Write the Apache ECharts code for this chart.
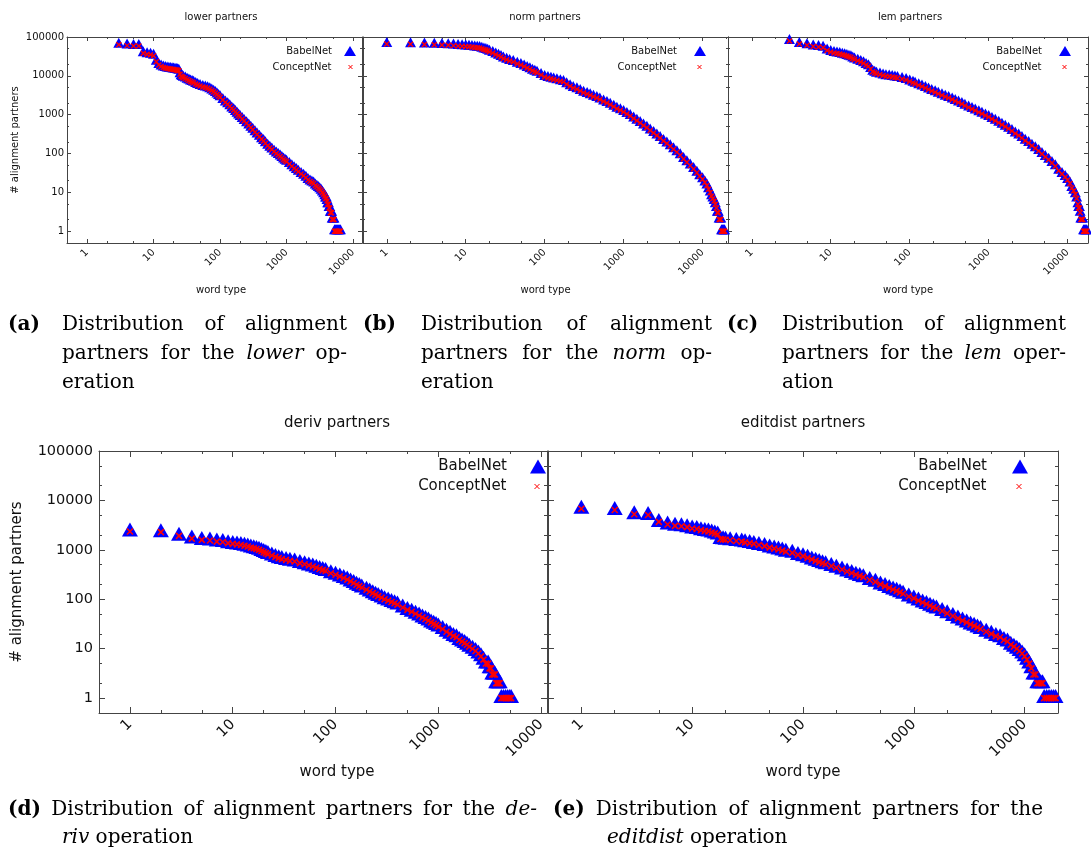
<!DOCTYPE html>
<html>
<head>
<meta charset="utf-8">
<script src="https://cdn.jsdelivr.net/npm/echarts@6/dist/echarts.min.js"></script>
<style>
html,body{margin:0;padding:0;background:#fff;}
#c{width:1091px;height:852px;}
</style>
</head>
<body>
<div id="c"></div>
<script>
// ---------------- data ----------------
const xTickValues = [1, 10, 100, 1000, 10000];
const xTickLabels = ['1', '10', '100', '1000', '10000'];
const yTickValues = [1, 10, 100, 1000, 10000, 100000];
const yTickLabels = ['1', '10', '100', '1000', '10000', '100000'];
const minorMultipliers = [2, 5];
const seriesNames = ['BabelNet', 'ConceptNet'];
const chartTitles = ['lower partners', 'norm partners', 'lem partners', 'deriv partners', 'editdist partners'];
const axisMinimum = 0.5;
const axisYMaximum = 100000;
const xAxisMaximums = [13600, 21000, 18100, 11400, 20000];

const lowerRanks = [3,4,5,6,7,8,9,10,11,12,13,14,15,16,17,18,19,20,21,22,23,24,25,26,27,28,30,32,34,36,38,40,43,46,50,55,60,65,70,75,80,85,90,95,100,110,120,130,140,150,160,170,180,190,200,215,230,250,270,290,310,335,360,390,420,450,480,520,560,600,650,700,750,800,850,900,950,1000,1100,1200,1300,1400,1500,1650,1800,1950,2100,2250,2400,2550,2700,2850,3000,3150,3300,3450,3600,3750,3850,3950,4050,4150,4250,4350,4450,4550,4650,4750,4850,4950,5050,5150,5250,5450,5650,5850,6050,6250,6450];
const lowerBabel = [63000,60000,59000,59000,38000,36000,35000,33000,23000,19000,17500,16500,16000,15500,15300,15000,14800,14600,14400,14200,13900,13500,11000,9800,9400,9000,8500,8000,7600,7200,6900,6600,6200,5800,5500,5200,5000,4800,4500,4200,3900,3600,3300,3050,2800,2400,2050,1850,1650,1450,1320,1180,1060,960,880,780,690,600,530,460,410,355,310,270,235,210,185,160,142,128,112,100,92,84,77,70,65,62,54,47,42,38,34,30,27,24,21,19,18,17,15,14,13,12,11,10,9,8,7,7,6,5,5,4,4,3,3,3,2,2,2,2,1,1,1,1,1,1,1];
const lowerConcept = [63000,60000,59000,59000,38000,36000,35000,33000,23000,19000,17500,16500,16000,15500,15300,15000,14800,14600,14400,14200,13900,13500,11000,9800,9400,9000,8500,8000,7600,7200,6900,6600,6200,5800,5500,5200,5000,4800,4500,4200,3900,3600,3300,3050,2800,2400,2050,1850,1650,1450,1320,1180,1060,960,880,780,690,600,530,460,410,355,310,270,235,210,185,160,142,128,112,100,92,84,77,70,65,62,54,47,42,38,34,30,27,24,21,19,18,17,15,14,13,12,11,10,9,8,7,7,6,5,5,4,4,3,3,3,2,2,2,2,1,1,1,1,1,1,1];

const normRanks = [1,2,3,4,5,6,7,8,9,10,11,12,13,14,15,16,17,18,19,20,22,24,26,28,30,33,36,40,45,50,55,60,65,70,75,80,90,100,110,120,130,143,158,173,190,210,230,256,282,311,345,377,415,458,500,557,615,676,750,822,910,1000,1100,1212,1340,1472,1620,1787,1970,2171,2400,2637,2900,3204,3530,3893,4290,4729,5210,5744,6330,6978,7700,8477,9200,10000,10700,11350,11900,12500,13000,13500,14000,14500,15000,15400,15800,16200,16600,17000,17400,17800,18200,18600,19000];
const normBabel = [66000,65000,64500,63000,62000,61000,60000,58500,58000,57000,56000,55000,54000,53000,52000,50000,48000,46000,44000,42000,39000,35500,33000,30500,28000,26000,24000,22600,20500,19000,17500,16000,14700,13500,12700,12000,10500,9300,8800,8400,8100,7700,7300,7000,6100,5400,4900,4500,4050,3700,3400,3150,2900,2700,2450,2200,2000,1800,1600,1420,1300,1170,1040,925,800,700,610,530,460,395,340,290,250,212,182,155,130,109,90,73,60,49,40,32,26,22,18,15,12,10,8,7,6,5,4,3,3,2,2,2,1,1,1,1,1];
const normConcept = [66000,65000,64500,63000,62000,61000,60000,58500,58000,57000,56000,55000,54000,53000,52000,50000,48000,46000,44000,42000,39000,35500,33000,30500,28000,26000,24000,22600,20500,19000,17500,16000,14700,13500,12700,12000,10500,9300,8800,8400,8100,7700,7300,7000,6100,5400,4900,4500,4050,3700,3400,3150,2900,2700,2450,2200,2000,1800,1600,1420,1300,1170,1040,925,800,700,610,530,460,395,340,290,250,212,182,155,130,109,90,73,60,49,40,32,26,22,18,15,12,10,8,7,6,5,4,3,3,2,2,2,1,1,1,1,1];

const lemRanks = [3,4,5,6,7,8,9,10,11,12,13,14,15,16,17,18,19,20,22,24,26,28,30,32,34,36,38,42,46,50,55,60,65,70,80,90,100,110,117,130,143,158,173,190,210,230,256,282,311,345,377,415,458,500,557,615,676,750,822,910,1000,1100,1212,1340,1472,1620,1787,1970,2171,2400,2637,2900,3204,3530,3893,4290,4729,5210,5744,6330,6978,7700,8477,9300,10000,10700,11300,11900,12500,13000,13500,13800,14100,14400,14700,15100,15500,15900,16300,16700,17100,17500];
const lemBabel = [79000,66000,61000,57000,55000,53000,45000,41000,39000,37500,36500,35000,33700,32500,31200,30000,28000,26500,24500,22600,21000,19000,17800,15000,12800,12000,11300,10800,10200,9800,9600,9300,9050,8800,8300,7800,7200,6600,6270,5700,5300,4850,4450,4100,3800,3450,3150,2900,2700,2450,2250,2050,1880,1700,1540,1400,1290,1160,1060,960,870,780,700,625,555,490,434,380,330,290,250,215,187,160,138,116,98,82,69,57,47,36,30,25,21,17,13,11,9,7,5,4,4,3,2,2,2,1,1,1,1,1];
const lemConcept = [79000,66000,61000,57000,55000,53000,45000,41000,39000,37500,36500,35000,33700,32500,31200,30000,28000,26500,24500,22600,21000,19000,17800,15000,12800,12000,11300,10800,10200,9800,9600,9300,9050,8800,8300,7800,7200,6600,6270,5700,5300,4850,4450,4100,3800,3450,3150,2900,2700,2450,2250,2050,1880,1700,1540,1400,1290,1160,1060,960,870,780,700,625,555,490,434,380,330,290,250,215,187,160,138,116,98,82,69,57,47,36,30,25,21,17,13,11,9,7,5,4,4,3,2,2,2,1,1,1,1,1];

const derivRanks = [1,2,3,4,5,6,7,8,9,10,11,12,13,14,15,16,17,18,19,20,21,22,24,26,28,30,33,36,40,45,50,55,60,65,70,75,80,90,100,110,120,130,140,150,160,170,180,200,215,230,245,260,280,300,325,350,375,400,450,500,550,600,650,700,750,800,850,900,950,1000,1100,1200,1300,1400,1500,1600,1700,1800,1900,2000,2150,2300,2450,2600,2750,2900,3050,3150,3250,3350,3450,3550,3650,3750,3850,3950,4100,4300,4500,4700,4900,5100];
const derivBabel = [2350,2280,1920,1690,1590,1545,1470,1440,1365,1320,1290,1250,1210,1170,1110,1080,1040,1000,950,900,860,820,770,720,680,650,625,600,580,540,510,485,460,435,410,390,375,337,313,290,270,250,230,213,197,185,173,156,144,133,124,116,108,100,94,88,83,78,68,61,56,51,47,43,40,37,34,32,30,28,25,22,20,18,17,15,14,13,12,11,10,9,8,7,6,5,5,4,4,3,3,3,2,2,2,2,1,1,1,1,1,1];
const derivConcept = [2350,2280,1920,1690,1590,1545,1470,1440,1365,1320,1290,1250,1210,1170,1110,1080,1040,1000,950,900,860,820,770,720,680,650,625,600,580,540,510,485,460,435,410,390,375,337,313,290,270,250,230,213,197,185,173,156,144,133,124,116,108,100,94,88,83,78,68,61,56,51,47,43,40,37,34,32,30,28,25,22,20,18,17,15,14,13,12,11,10,9,8,7,6,5,5,4,4,3,3,3,2,2,2,2,1,1,1,1,1,1];

const editRanks = [1,2,3,4,5,6,7,8,9,10,11,12,13,14,15,16,17,18,19,20,22,25,28,30,33,36,40,45,50,55,60,65,70,80,90,100,110,120,130,140,150,160,180,200,225,250,275,300,325,350,400,450,500,550,600,650,700,750,800,900,1000,1100,1200,1300,1400,1500,1600,1800,2000,2250,2500,2750,3000,3250,3500,3750,4000,4500,5000,5500,6000,6500,7000,7500,8000,8500,9000,9500,10000,10500,11000,11500,12000,12500,13000,13500,14000,14500,15000,15800,16600,17400,18200,19000];
const editBabel = [6800,6400,5250,5080,3680,3260,3060,3000,2880,2700,2640,2500,2400,2360,2250,2150,2050,1660,1630,1600,1560,1510,1470,1420,1370,1320,1250,1190,1110,1060,1015,965,920,870,790,745,690,640,600,565,535,510,470,435,400,365,340,315,297,280,245,225,200,185,170,158,148,138,129,114,104,94,86,80,74,69,65,58,52,46,41,37,34,31,29,27,25,22,20,18,17,15,14,12,11,10,9,8,7,6,5,4,3,3,2,2,2,2,1,1,1,1,1,1];
const editConcept = [6800,6400,5250,5080,3680,3260,3060,3000,2880,2700,2640,2500,2400,2360,2250,2150,2050,1660,1630,1600,1560,1510,1470,1420,1370,1320,1250,1190,1110,1060,1015,965,920,870,790,745,690,640,600,565,535,510,470,435,400,365,340,315,297,280,245,225,200,185,170,158,148,138,129,114,104,94,86,80,74,69,65,58,52,46,41,37,34,31,29,27,25,22,20,18,17,15,14,12,11,10,9,8,7,6,5,4,3,3,2,2,2,2,1,1,1,1,1,1];

// ---------------- layout & styles ----------------
const FONT = 'DejaVu Sans';
const SERIF = 'DejaVu Serif';
const INK = '#111';
const FRAME = '#444';
const BLUE = '#0000ff';
const RED = '#ff0000';
const X_PATH = 'path://M0,0L10,10M10,0L0,10';
const CAP_SIZE = 20;

const small = {font:10, tickFont:10, major:4, minor:2, tri:[11,10], x:5, xw:1.4, legTri:[12,10], legX:4, xMargin:8, yMargin:3, xNameGap:42, yNameGap:47};
const big   = {font:15, tickFont:14.5, major:6, minor:3, tri:[16,14], x:6, xw:1.6, legTri:[16,14], legX:5, xMargin:9, yMargin:6, xNameGap:52, yNameGap:74};

const panels = [
  {ranks:lowerRanks, babel:lowerBabel, concept:lowerConcept, box:{left:67, top:37, width:295, height:206}, S:small, yText:true, title:[221,17], nameShift:13,
   leg:{bRight:735, bTop:46, bPad:7, cRight:738, cTop:62, cPad:12}},
  {ranks:normRanks, babel:normBabel, concept:normConcept, box:{left:363, top:37, width:365, height:206}, S:small, yText:false, title:[545,17], nameShift:0,
   leg:{bRight:385, bTop:46, bPad:12, cRight:389, cTop:62, cPad:16}},
  {ranks:lemRanks, babel:lemBabel, concept:lemConcept, box:{left:728, top:37, width:360, height:206}, S:small, yText:false, title:[910,17], nameShift:0,
   leg:{bRight:20, bTop:46, bPad:12, cRight:24, cTop:62, cPad:16}},
  {ranks:derivRanks, babel:derivBabel, concept:derivConcept, box:{left:99, top:451, width:448, height:262}, S:big, yText:true, title:[337,423], nameShift:28,
   leg:{bRight:545, bTop:459, bPad:18, cRight:551, cTop:479, cPad:23}},
  {ranks:editRanks, babel:editBabel, concept:editConcept, box:{left:548, top:451, width:510, height:262}, S:big, yText:false, title:[803,423], nameShift:0,
   leg:{bRight:63, bTop:459, bPad:20, cRight:69, cTop:479, cPad:25}}
];

const captionLines = [
  {x:8,   y:325, parts:[['b','(a)']]},
  {x:62,  x1:347, y:325, parts:[['n','Distribution of alignment']]},
  {x:62,  x1:347, y:354, parts:[['n','partners for the'],['i','lower'],['n','op-']]},
  {x:62,  y:383, parts:[['n','eration']]},
  {x:363, y:325, parts:[['b','(b)']]},
  {x:421, x1:712, y:325, parts:[['n','Distribution of alignment']]},
  {x:421, x1:712, y:354, parts:[['n','partners for the'],['i','norm'],['n','op-']]},
  {x:421, y:383, parts:[['n','eration']]},
  {x:727, y:325, parts:[['b','(c)']]},
  {x:782, x1:1066, y:325, parts:[['n','Distribution of alignment']]},
  {x:782, x1:1066, y:354, parts:[['n','partners for the'],['i','lem'],['n','oper-']]},
  {x:782, y:383, parts:[['n','ation']]},
  {x:8,   x1:537, y:810, parts:[['b','(d)'],['n','Distribution of alignment partners for the'],['i','de-']]},
  {x:62,  y:838, parts:[['i','riv'],['n','operation']]},
  {x:553, x1:1043, y:810, parts:[['b','(e)'],['n','Distribution of alignment partners for the']]},
  {x:607, y:838, parts:[['i','editdist'],['n','operation']]}
];

// ---------------- build ----------------
const L = Math.log10;
const xMajor = xTickValues.map(L);
const yMajor = yTickValues.map(L);
const minorVals = [];
for (let e = -1; e <= 5; e++) minorMultipliers.forEach(m => minorVals.push(L(m * Math.pow(10, e))));

function labelFor(vals, labels, v) {
  let best = 0;
  vals.forEach((t, k) => { if (Math.abs(t - v) < Math.abs(vals[best] - v)) best = k; });
  return labels[best];
}

const grids = [], xAxes = [], yAxes = [], series = [], legends = [], graphics = [];

panels.forEach((P, i) => {
  const S = P.S;
  grids.push(Object.assign({show:false, containLabel:false, outerBoundsMode:'none'}, P.box));
  const xr = {min:L(axisMinimum), max:L(xAxisMaximums[i])};
  const yr = {min:L(axisMinimum), max:L(axisYMaximum)};
  const frame = {show:true, onZero:false, lineStyle:{color:FRAME, width:1}};
  const hidden = {show:false, onZero:false};
  const ticks = (vals, len) => ({show:true, inside:true, length:len, customValues:vals, lineStyle:{color:FRAME, width:1}});
  const common = {gridIndex:i, type:'value', silent:true, splitLine:{show:false}, splitArea:{show:false}};
  const nameStyle = {fontFamily:FONT, fontSize:S.font, color:INK};

  xAxes.push(Object.assign({}, common, xr, {
    position:'bottom', axisLine:frame, axisTick:ticks(xMajor, S.major),
    axisLabel:{show:true, customValues:xMajor, rotate:45, margin:S.xMargin, fontFamily:FONT, fontSize:S.tickFont, color:INK,
      formatter:v => labelFor(xMajor, xTickLabels, v)},
    name:'word type', nameLocation:'middle', nameGap:S.xNameGap, nameMoveOverlap:false,
    nameTextStyle:Object.assign({padding:[0,0,0,P.nameShift]}, nameStyle)
  }));
  xAxes.push(Object.assign({}, common, xr, {position:'bottom', axisLine:hidden, axisTick:ticks(minorVals, S.minor), axisLabel:{show:false}}));
  xAxes.push(Object.assign({}, common, xr, {position:'top', axisLine:frame, axisTick:ticks(xMajor, S.major), axisLabel:{show:false}}));
  xAxes.push(Object.assign({}, common, xr, {position:'top', axisLine:hidden, axisTick:ticks(minorVals, S.minor), axisLabel:{show:false}}));

  yAxes.push(Object.assign({}, common, yr, {
    position:'left', axisLine:frame, axisTick:ticks(yMajor, S.major),
    axisLabel: P.yText ? {show:true, customValues:yMajor, margin:S.yMargin, fontFamily:FONT, fontSize:S.tickFont, color:INK,
      formatter:v => labelFor(yMajor, yTickLabels, v)} : {show:false},
    name: P.yText ? '# alignment partners' : '', nameLocation:'middle', nameGap:S.yNameGap, nameMoveOverlap:false,
    nameTextStyle:nameStyle
  }));
  yAxes.push(Object.assign({}, common, yr, {position:'left', axisLine:hidden, axisTick:ticks(minorVals, S.minor), axisLabel:{show:false}}));
  yAxes.push(Object.assign({}, common, yr, {position:'right', axisLine:frame, axisTick:ticks(yMajor, S.major), axisLabel:{show:false}}));
  yAxes.push(Object.assign({}, common, yr, {position:'right', axisLine:hidden, axisTick:ticks(minorVals, S.minor), axisLabel:{show:false}}));

  series.push({
    type:'scatter', name:seriesNames[0], xAxisIndex:i*4, yAxisIndex:i*4,
    data:P.ranks.map((r, k) => [L(r), L(P.babel[k])]),
    symbol:'triangle', symbolSize:S.tri, symbolOffset:[0, -Math.round(S.tri[1] / 6)],
    itemStyle:{color:BLUE, opacity:1}, silent:true, animation:false, emphasis:{disabled:true}
  });
  series.push({
    type:'scatter', name:seriesNames[1], xAxisIndex:i*4, yAxisIndex:i*4,
    data:P.ranks.map((r, k) => [L(r), L(P.concept[k])]),
    symbol:X_PATH, symbolSize:S.x,
    itemStyle:{color:RED, borderColor:RED, borderWidth:S.xw, opacity:1}, silent:true, animation:false, emphasis:{disabled:true}
  });

  const legText = pad => ({fontFamily:FONT, fontSize:S.font, color:INK, padding:[0, pad, 0, 0]});
  legends.push({
    data:[{name:seriesNames[0], icon:'triangle', itemStyle:{color:BLUE, borderWidth:0, opacity:1}}],
    right:P.leg.bRight, top:P.leg.bTop, padding:0, align:'right', orient:'horizontal',
    itemWidth:S.legTri[0], itemHeight:S.legTri[1], selectedMode:false, textStyle:legText(P.leg.bPad)
  });
  legends.push({
    data:[{name:seriesNames[1], icon:X_PATH, itemStyle:{color:RED, borderColor:RED, borderWidth:1, opacity:1}}],
    right:P.leg.cRight, top:P.leg.cTop, padding:0, align:'right', orient:'horizontal',
    itemWidth:S.legX, itemHeight:S.legX, selectedMode:false, textStyle:legText(P.leg.cPad)
  });

  graphics.push({
    type:'text', x:P.title[0], y:P.title[1], silent:true,
    style:{text:chartTitles[i], fontFamily:FONT, fontSize:S.font, fill:INK, textFill:INK,
      align:'center', textAlign:'center', verticalAlign:'middle', textVerticalAlign:'middle'}
  });
});

// captions (justified like the LaTeX subcaptions)
const measure = document.createElement('canvas').getContext('2d');
const cssFont = st => (st === 'i' ? 'italic ' : 'normal ') + (st === 'b' ? 'bold ' : 'normal ') + CAP_SIZE + 'px "' + SERIF + '"';
captionLines.forEach(line => {
  const words = [];
  line.parts.forEach(([st, txt]) => txt.split(' ').filter(Boolean).forEach(w => words.push({st, w})));
  words.forEach(o => { measure.font = cssFont(o.st); o.width = measure.measureText(o.w).width; });
  measure.font = cssFont('n');
  let gap = measure.measureText(' ').width;
  if (line.x1 && words.length > 1) {
    const total = words.reduce((s, o) => s + o.width, 0);
    gap = (line.x1 - line.x - total) / (words.length - 1);
  }
  let x = line.x;
  words.forEach(o => {
    graphics.push({
      type:'text', x:x, y:line.y, silent:true,
      style:{text:o.w, fontFamily:SERIF, fontSize:CAP_SIZE,
        fontStyle:o.st === 'i' ? 'italic' : 'normal', fontWeight:o.st === 'b' ? 'bold' : 'normal',
        fill:'#000', textFill:'#000', align:'left', textAlign:'left', verticalAlign:'middle', textVerticalAlign:'middle'}
    });
    x += o.width + gap;
  });
});

const chart = echarts.init(document.getElementById('c'), null, {renderer:'canvas', width:1091, height:852});
chart.setOption({
  animation:false,
  backgroundColor:'#ffffff',
  grid:grids,
  xAxis:xAxes,
  yAxis:yAxes,
  legend:legends,
  series:series,
  graphic:graphics
});
</script>
</body>
</html>
